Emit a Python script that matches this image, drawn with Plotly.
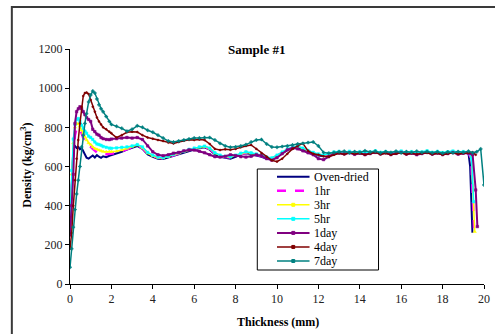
import plotly.graph_objects as go

# ---------------- data ----------------
series_names = ["Oven-dried", "1hr", "3hr", "5hr", "1day", "4day", "7day"]

thickness = [0, 0.08, 0.16, 0.24, 0.32, 0.4, 0.48, 0.56, 0.64, 0.72, 0.8, 0.9, 1.0, 1.1, 1.2, 1.3, 1.4, 1.5, 1.6, 1.75, 1.9,
             2.0, 2.25, 2.5, 2.75, 3.0, 3.25, 3.5, 3.75, 4.0, 4.25,
             4.5, 4.75, 5.0, 5.25, 5.5, 5.75, 6.0, 6.25, 6.5, 6.75,
             7.0, 7.25, 7.5, 7.75, 8.0, 8.25, 8.5, 8.75, 9.0, 9.25,
             9.5, 9.75, 10.0, 10.25, 10.5, 10.75, 11.0, 11.25, 11.5, 11.75,
             12.0, 12.25, 12.5, 12.75, 13.0, 13.25, 13.5, 13.75, 14.0, 14.25,
             14.5, 14.75, 15.0, 15.25, 15.5, 15.75, 16.0, 16.25, 16.5, 16.75,
             17.0, 17.25, 17.5, 17.75, 18.0, 18.25, 18.5, 18.75, 19.0, 19.25]

oven_dried = [300, 520, 690, 705, 695, 700, 688, 695, 678, 660, 645, 640, 650, 656, 646, 658, 650, 644, 652, 648, 655,
              658, 668, 675, 686, 695, 705, 690, 662, 650, 640,
              638, 646, 655, 664, 670, 680, 688, 694, 698, 686,
              662, 650, 645, 640, 650, 662, 668, 664, 656, 650,
              640, 636, 650, 668, 684, 692, 698, 688, 676, 664,
              656, 652, 660, 668, 670, 664, 672, 666, 670, 662,
              668, 674, 666, 670, 663, 668, 672, 665, 670, 663,
              668, 673, 665, 670, 664, 668, 672, 666, 670, 668]
oven_tail_x = [19.33, 19.44]
oven_tail_y = [600, 262]

hr1 = [280, 470, 650, 760, 795, 800, 786, 770, 746, 730, 715, 705, 700, 690, 680, 672, 668, 665, 660, 662, 664,
       664, 670, 678, 688, 698, 708, 694, 666, 652, 644,
       640, 648, 658, 666, 674, 684, 690, 696, 700, 690,
       666, 654, 648, 646, 654, 664, 670, 666, 660, 654,
       644, 640, 654, 670, 686, 694, 700, 690, 678, 668,
       660, 655, 662, 670, 672, 667, 674, 668, 672, 665,
       670, 676, 668, 672, 666, 670, 675, 668, 672, 666,
       670, 676, 668, 673, 667, 671, 675, 669, 672, 670]
hr1_tail_x = [19.38, 19.52]
hr1_tail_y = [640, 285]

hr3 = [290, 560, 720, 800, 820, 818, 805, 785, 770, 750, 735, 720, 712, 700, 692, 688, 684, 680, 676, 675, 676,
       675, 678, 684, 692, 702, 710, 696, 668, 654, 646,
       643, 650, 660, 668, 676, 686, 692, 698, 702, 692,
       668, 656, 650, 648, 656, 666, 673, 668, 662, 656,
       646, 642, 656, 672, 688, 696, 702, 692, 680, 670,
       662, 657, 664, 672, 674, 669, 676, 670, 674, 667,
       672, 678, 670, 674, 668, 672, 677, 670, 674, 668,
       672, 678, 670, 675, 669, 673, 677, 671, 674, 672]
hr3_tail_x = [19.4, 19.55]
hr3_tail_y = [650, 267]

hr5 = [330, 580, 740, 815, 840, 845, 830, 810, 795, 780, 770, 755, 748, 738, 725, 715, 712, 708, 702, 698, 694,
       693, 695, 698, 700, 705, 712, 700, 672, 658, 648,
       645, 652, 662, 670, 678, 688, 694, 700, 704, 694,
       670, 658, 652, 650, 658, 668, 675, 670, 664, 658,
       648, 644, 658, 674, 690, 698, 704, 694, 682, 672,
       664, 659, 666, 674, 677, 671, 678, 672, 676, 669,
       674, 680, 672, 676, 670, 674, 679, 672, 676, 670,
       674, 680, 672, 677, 671, 675, 679, 673, 676, 674]
hr5_tail_x = [19.4, 19.5]
hr5_tail_y = [640, 420]

day1 = [250, 400, 560, 820, 880, 895, 905, 895, 880, 865, 850, 840, 830, 790, 778, 765, 760, 748, 742, 738, 737,
        740, 742, 745, 748, 745, 748, 738, 705, 675, 660,
        655, 660, 668, 672, 680, 685, 684, 678, 670, 660,
        650, 648, 652, 660, 655, 650, 648, 652, 660, 655,
        640, 632, 645, 665, 685, 694, 690, 680, 670, 660,
        640, 635, 650, 665, 669, 664, 670, 662, 668, 660,
        666, 672, 664, 670, 661, 667, 672, 663, 668, 660,
        666, 672, 663, 669, 661, 666, 671, 663, 668, 668]
day1_tail_x = [19.45, 19.6, 19.68]
day1_tail_y = [660, 480, 293]

day4 = [180, 260, 400, 530, 640, 735, 820, 905, 960, 975, 978, 970, 940, 905, 880, 850, 830, 815, 800, 790, 778,
        770, 748, 760, 775, 778, 776, 760, 748, 742, 735,
        730, 722, 718, 725, 732, 736, 735, 738, 735, 715,
        690, 684, 688, 685, 690, 698, 705, 710, 690, 668,
        650, 632, 625, 640, 665, 690, 705, 718, 680, 665,
        660, 652, 650, 660, 668, 662, 670, 664, 668, 660,
        666, 672, 662, 668, 660, 666, 670, 662, 668, 662,
        666, 670, 662, 668, 660, 666, 670, 664, 668, 672]
day4_tail_x = [19.45, 19.6]
day4_tail_y = [672, 660]

day7 = [85, 180, 290, 380, 460, 530, 600, 700, 760, 820, 870, 930, 965, 985, 975, 945, 915, 895, 880, 855, 830,
        815, 805, 795, 780, 790, 808, 800, 785, 775, 760,
        745, 730, 725, 730, 735, 740, 745, 745, 748, 748,
        735, 718, 705, 698, 700, 705, 712, 725, 735, 738,
        715, 700, 698, 702, 705, 710, 715, 718, 722, 725,
        705, 672, 668, 672, 675, 678, 670, 676, 672, 680,
        674, 678, 670, 676, 672, 678, 670, 676, 672, 678,
        672, 676, 670, 675, 668, 674, 670, 676, 672, 678]
day7_tail_x = [19.45, 19.65, 19.84, 20.0]
day7_tail_y = [670, 675, 690, 506]

x_ticks = [0, 2, 4, 6, 8, 10, 12, 14, 16, 18, 20]
y_ticks = [0, 200, 400, 600, 800, 1000, 1200]

series_values = [oven_dried, hr1, hr3, hr5, day1, day4, day7]
series_tail_x = [oven_tail_x, hr1_tail_x, hr3_tail_x, hr5_tail_x, day1_tail_x, day4_tail_x, day7_tail_x]
series_tail_y = [oven_tail_y, hr1_tail_y, hr3_tail_y, hr5_tail_y, day1_tail_y, day4_tail_y, day7_tail_y]

# ---------------- styles ----------------
colors = ["#000080", "#FF00FF", "#FFFF00", "#00FFFF", "#800080", "#800000", "#008080"]
dashes = ["solid", "dash", "solid", "solid", "solid", "solid", "solid"]
widths = [2, 2.5, 1.5, 1.5, 2, 1.5, 1.5]
markers = [None, None, "triangle-up", "square", "square", "circle", "cross"]
msizes = [0, 0, 3, 2.5, 2.5, 2, 2.5]

FONT = "Liberation Serif, Times New Roman, serif"
W, H = 495, 334
L, R, T, B = 70, 5, 49, 50
PW, PH = W - L - R, H - T - B


def pxx(x):
    return (x - L) / PW


def pxy(y):
    return (H - B - y) / PH


fig = go.Figure()
for i, name in enumerate(series_names):
    xs = thickness + series_tail_x[i]
    ys = series_values[i] + series_tail_y[i]
    mode = "lines+markers" if markers[i] else "lines"
    kw = dict(line=dict(color=colors[i], width=widths[i], dash=dashes[i]))
    if markers[i]:
        kw["marker"] = dict(symbol=markers[i], size=msizes[i], color=colors[i],
                            line=dict(width=0.5, color=colors[i]))
    fig.add_trace(go.Scatter(x=xs, y=ys, mode=mode, name=name, showlegend=False, **kw))

shapes = []
annotations = []

# outer chart frame (left/top visible, extends beyond the crop)
shapes.append(dict(type="rect", xref="paper", yref="paper",
                   x0=pxx(11), x1=pxx(W + 20), y0=pxy(H + 20), y1=pxy(7),
                   line=dict(color="#3a3a3a", width=2), fillcolor="rgba(0,0,0,0)", layer="below"))

# legend box
lx0, lx1, ly0, ly1 = 260, 383, 169, 270
shapes.append(dict(type="rect", xref="paper", yref="paper",
                   x0=pxx(lx0), x1=pxx(lx1), y0=pxy(ly1), y1=pxy(ly0),
                   line=dict(color="#000000", width=1), fillcolor="white", layer="above"))
row0, row_step = 176.7, 14.05
for i, name in enumerate(series_names):
    ry = row0 + i * row_step
    shapes.append(dict(type="line", xref="paper", yref="paper",
                       x0=pxx(280), x1=pxx(313), y0=pxy(ry), y1=pxy(ry),
                       line=dict(color=colors[i], width=widths[i], dash=dashes[i]), layer="above"))
    if markers[i]:
        shapes.append(dict(type="rect", xref="paper", yref="paper",
                           x0=pxx(295), x1=pxx(298), y0=pxy(ry + 1.5), y1=pxy(ry - 1.5),
                           line=dict(color=colors[i], width=1), fillcolor=colors[i], layer="above"))
    annotations.append(dict(text=name, xref="paper", yref="paper", x=pxx(315), y=pxy(ry),
                            xanchor="left", yanchor="middle", showarrow=False,
                            font=dict(family=FONT, size=12, color="black")))

# title and axis titles
annotations.append(dict(text="<b>Sample #1</b>", xref="paper", yref="paper", x=pxx(259), y=pxy(49),
                        xanchor="center", yanchor="middle", showarrow=False,
                        font=dict(family=FONT, size=13, color="black")))
annotations.append(dict(text="<b>Density (kg/cm<sup>3</sup>)</b>", xref="paper", yref="paper",
                        x=pxx(25), y=pxy(165), textangle=-90, xanchor="center", yanchor="middle",
                        showarrow=False, font=dict(family=FONT, size=12, color="black")))
annotations.append(dict(text="<b>Thickness (mm)</b>", xref="paper", yref="paper", x=pxx(281), y=pxy(322),
                        xanchor="center", yanchor="middle", showarrow=False,
                        font=dict(family=FONT, size=12, color="black")))

fig.update_layout(
    width=W, height=H,
    margin=dict(l=L, r=R, t=T, b=B, pad=0),
    paper_bgcolor="white", plot_bgcolor="white",
    showlegend=False,
    shapes=shapes, annotations=annotations,
    font=dict(family=FONT, size=12, color="black"),
    xaxis=dict(range=[0, 20], tickvals=x_ticks, ticks="outside", ticklen=4, tickcolor="black",
               showline=True, linecolor="black", linewidth=1, showgrid=False, zeroline=False,
               ticklabeloverflow="allow",
               tickfont=dict(family=FONT, size=12, color="#222")),
    yaxis=dict(range=[0, 1200], tickvals=y_ticks, ticks="outside", ticklen=4, tickcolor="black",
               showline=True, linecolor="black", linewidth=1, showgrid=False, zeroline=False,
               ticklabeloverflow="allow",
               tickfont=dict(family=FONT, size=12, color="#222")),
)

fig.write_html("out.html", config={"displayModeBar": False},
               post_script="document.body.style.margin='0';document.body.style.overflow='hidden';")
